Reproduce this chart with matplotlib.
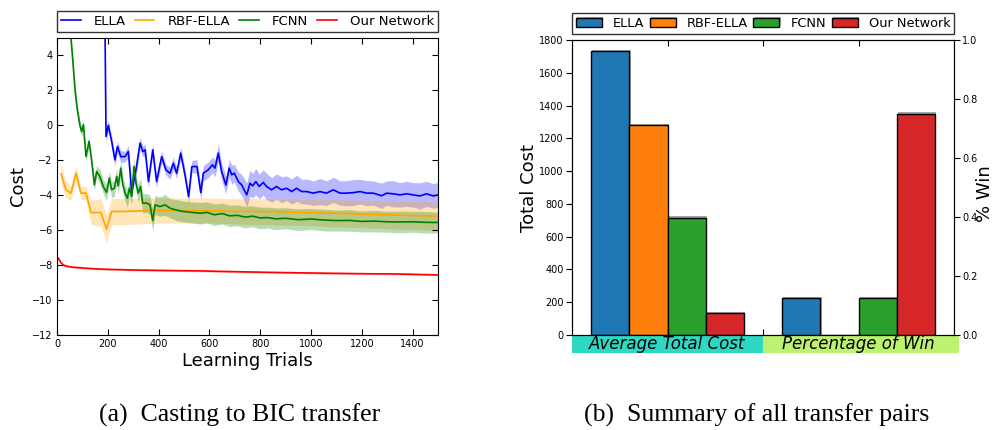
import numpy as np
import matplotlib
matplotlib.use("Agg")
import matplotlib.pyplot as plt
import matplotlib.patheffects as pe
from matplotlib.patches import Rectangle

# ------------------------------------------------------------------
# (a) learning curves: mean cost and spread per method
# ------------------------------------------------------------------
ella_x = [185, 193, 202, 215, 228, 238, 251, 268, 281, 294, 313, 327, 338, 347, 360,
          377, 392, 412, 429, 445, 458, 471, 487, 505, 518, 531, 551, 566, 576, 595,
          612, 622, 635, 648, 665, 678, 688, 698, 714, 727, 747, 760, 770, 783, 796,
          812, 825, 845, 864, 884, 904, 924, 943, 963, 983, 1009, 1035, 1061, 1088, 1114,
          1140, 1167, 1193, 1219, 1245, 1278, 1298, 1324, 1350, 1376, 1403, 1429, 1455, 1481, 1500]
ella_y = [12, -0.64, 0.0, -0.9, -1.98, -1.21, -1.79, -1.79, -1.5, -3.84, -2.36, -1.02, -1.5, -1.40, -3.22,
          -1.4, -3.22, -1.79, -2.55, -2.74, -2.17, -2.74, -1.59, -2.93, -4.08, -2.36, -2.36, -3.85, -2.74, -2.55,
          -2.26, -2.45, -1.59, -2.64, -3.41, -2.45, -2.83, -2.74, -3.22, -3.41, -3.98, -3.31, -3.46, -3.22, -3.50,
          -3.27, -3.5, -3.69, -3.5, -3.69, -3.6, -3.79, -3.60, -3.79, -3.79, -3.88, -3.79, -3.88, -3.69, -3.88,
          -3.88, -3.85, -3.79, -3.88, -3.88, -4.03, -3.88, -3.92, -3.98, -3.92, -3.98, -4.04, -3.92, -4.04, -3.98]
ella_sd = [0.3, 0.3, 0.3, 0.3, 0.35, 0.3, 0.35, 0.3, 0.35, 0.3, 0.35, 0.35, 0.3, 0.35, 0.35,
           0.3, 0.35, 0.35, 0.3, 0.35, 0.35, 0.3, 0.35, 0.35, 0.35, 0.35, 0.4, 0.4, 0.45, 0.45,
           0.45, 0.5, 0.5, 0.5, 0.5, 0.5, 0.55, 0.5, 0.55, 0.6, 0.7, 0.75, 0.7, 0.75, 0.7,
           0.72, 0.75, 0.7, 0.72, 0.75, 0.7, 0.72, 0.75, 0.7, 0.72, 0.7, 0.75, 0.7, 0.72, 0.7,
           0.72, 0.75, 0.7, 0.72, 0.7, 0.72, 0.7, 0.75, 0.7, 0.72, 0.7, 0.75, 0.72, 0.7, 0.72]

rbf_x = [16, 35, 55, 75, 94, 114, 134, 173, 195, 215, 260, 320, 392, 450, 520,
         600, 700, 800, 900, 1000, 1100, 1200, 1300, 1400, 1500]
rbf_y = [-2.77, -3.69, -3.88, -2.74, -3.88, -3.88, -4.99, -4.99, -5.94, -4.93, -4.93, -4.90, -4.88, -4.87, -4.88,
         -4.88, -4.92, -4.93, -4.96, -5.0, -5.03, -5.08, -5.12, -5.16, -5.2]
rbf_sd = [0.6, 0.45, 0.4, 0.45, 0.35, 0.4, 0.7, 0.8, 0.8, 0.75, 0.75, 0.75, 0.72, 0.72, 0.72,
          0.72, 0.72, 0.75, 0.75, 0.75, 0.78, 0.78, 0.8, 0.8, 0.82]

fcnn_x = [10, 55, 62, 71, 80, 91, 97, 104, 114, 126, 136, 147, 156, 169, 182, 195, 206, 215, 226, 235,
          241, 251, 258, 268, 277, 285, 294, 303, 311, 320, 329, 337, 353, 366, 377, 386, 405, 425, 445, 470,
          497, 530, 563, 590, 620, 650, 680, 710, 740, 770, 800, 830, 860, 900, 950, 1000, 1050, 1100, 1150, 1200,
          1250, 1300, 1350, 1400, 1450, 1500]
fcnn_y = [14, 5.0, 3.75, 2.03, 0.89, -0.06, -0.35, 0.03, -1.78, -0.92, -1.97, -3.40, -2.64, -2.93, -3.50, -3.84, -3.02, -3.69, -3.60, -2.93,
          -3.46, -2.45, -3.31, -3.88, -4.17, -3.60, -4.07, -2.35, -3.31, -3.88, -3.5, -4.45, -4.45, -4.55, -5.45, -4.55, -4.65, -4.55, -4.74, -4.85,
          -4.93, -4.98, -5.03, -4.98, -5.12, -5.05, -5.18, -5.15, -5.25, -5.2, -5.3, -5.28, -5.35, -5.32, -5.4, -5.36, -5.42, -5.45, -5.44, -5.5,
          -5.48, -5.52, -5.53, -5.52, -5.55, -5.56]
fcnn_sd = [0.3, 0.3, 0.3, 0.3, 0.3, 0.3, 0.25, 0.3, 0.3, 0.3, 0.3, 0.35, 0.35, 0.4, 0.4, 0.45, 0.4, 0.45, 0.45, 0.45,
           0.45, 0.45, 0.5, 0.45, 0.5, 0.5, 0.45, 0.5, 0.5, 0.5, 0.5, 0.55, 0.55, 0.55, 0.6, 0.55, 0.55, 0.6, 0.55, 0.6,
           0.6, 0.6, 0.62, 0.6, 0.62, 0.6, 0.62, 0.6, 0.62, 0.6, 0.62, 0.6, 0.62, 0.6, 0.62, 0.6, 0.62, 0.6, 0.62, 0.6,
           0.62, 0.6, 0.62, 0.6, 0.62, 0.6]

ours_x = [5, 15, 25, 40, 64, 90, 116, 150, 195, 250, 300, 400, 500, 563, 650, 750, 825, 950, 1088, 1200, 1350, 1500]
ours_y = [-7.61, -7.85, -7.99, -8.07, -8.12, -8.15, -8.18, -8.21, -8.24, -8.26, -8.28, -8.30, -8.32, -8.33, -8.36,
          -8.39, -8.41, -8.44, -8.47, -8.49, -8.51, -8.56]
ours_sd = [0.08, 0.07, 0.06, 0.06, 0.05, 0.05, 0.05, 0.05, 0.05, 0.05, 0.05, 0.05, 0.05, 0.05, 0.05,
           0.05, 0.05, 0.05, 0.05, 0.05, 0.05, 0.05]

# ------------------------------------------------------------------
# (b) summary over all transfer pairs
# ------------------------------------------------------------------
methods = ["ELLA", "RBF-ELLA", "FCNN", "Our Network"]
avg_total_cost = [1730, 1280, 716, 132]
win_rate = [0.125, 0.0, 0.125, 0.75]
group_labels = ["Average Total Cost", "Percentage of Win"]

line_colors = ["#0000ff", "#ffa500", "#008000", "#ff0000"]
bar_colors = ["#1f77b4", "#ff7f0e", "#2ca02c", "#d62728"]
label_boxes = ["#2ed9c4", "#bdf170"]

W, H = 994, 430


def px_rect(x0, y0, x1, y1):
    """Figure-fraction rectangle from pixel corners (origin top-left)."""
    return [x0 / W, 1 - y1 / H, (x1 - x0) / W, (y1 - y0) / H]


fig = plt.figure(figsize=(W / 100, H / 100), dpi=100)

# ---------------- left panel ----------------
ax = fig.add_axes(px_rect(57, 38, 438, 335))
curves = [(ella_x, ella_y, ella_sd), (rbf_x, rbf_y, rbf_sd),
          (fcnn_x, fcnn_y, fcnn_sd), (ours_x, ours_y, ours_sd)]
for (xs, ys, sd), col, name in zip(curves, line_colors, methods):
    xs, ys, sd = np.asarray(xs), np.asarray(ys), np.asarray(sd)
    ax.fill_between(xs, ys - sd, ys + sd, color=col, alpha=0.28, linewidth=0)
    ax.plot(xs, ys, color=col, linewidth=1.2, label=name)

ax.set_xlim(0, 1500)
ax.set_ylim(-12, 5)
ax.set_xticks(np.arange(0, 1401, 200))
ax.set_yticks(np.arange(-12, 5, 2))
ax.tick_params(direction="in", top=True, right=True, length=4, width=0.8,
               labelsize=7, pad=3)
ax.set_xlabel("Learning Trials", fontsize=13, va="center")
ax.xaxis.set_label_coords(0.5, -(361 - 335) / 297)
ax.set_ylabel("Cost", fontsize=13, va="center")
ax.yaxis.set_label_coords((18 - 57) / 381, 0.5)
ax.legend(loc="lower left", bbox_to_anchor=(0, 1.02, 1, 0.074), mode="expand",
          ncol=4, fontsize=9.5, fancybox=False, edgecolor="black",
          borderaxespad=0, handlelength=1.5, handletextpad=1.0, borderpad=0.3)

# ---------------- right panel ----------------
ax2 = fig.add_axes(px_rect(572, 40, 954, 335))
ax2r = ax2.twinx()
group_pos = [1, 3]
width = 0.4
shadow = [pe.SimplePatchShadow(offset=(1, 1), shadow_rgbFace="0.5", alpha=0.7), pe.Normal()]
handles = []
for i, name in enumerate(methods):
    off = (i - 1.5) * width
    h = ax2.bar(group_pos[0] + off, avg_total_cost[i], width=width, color=bar_colors[i],
                edgecolor="black", linewidth=1, label=name, path_effects=shadow)
    ax2r.bar(group_pos[1] + off, win_rate[i], width=width, color=bar_colors[i],
             edgecolor="black", linewidth=1, path_effects=shadow)
    handles.append(h)

ax2.set_xlim(0, 4)
ax2.set_ylim(0, 1800)
ax2r.set_ylim(0, 1.0)
ax2.set_xticks([1, 2, 3])
ax2.set_yticks(np.arange(0, 1801, 200))
ax2r.set_yticks(np.arange(0, 1.01, 0.2))
ax2r.yaxis.set_major_formatter(matplotlib.ticker.FormatStrFormatter("%.1f"))
ax2.tick_params(axis="x", direction="in", top=True, labelbottom=False, length=4)
ax2.tick_params(axis="y", direction="out", length=4, labelsize=7, pad=2)
ax2r.tick_params(axis="y", direction="out", length=4, labelsize=7, pad=2)
ax2.set_ylabel("Total Cost", fontsize=13, va="center")
ax2.yaxis.set_label_coords((529.5 - 572) / 382, 0.5)
ax2r.set_ylabel("% Win", fontsize=13, va="center")
ax2r.yaxis.set_label_coords((985 - 572) / 382, 0.48)

# coloured group captions under the bars
box_h = 17 / 295
spans = [(0.0, 0.5), (0.5, (959 - 572) / 382)]
for (x0, x1), col in zip(spans, label_boxes):
    ax2.add_patch(Rectangle((x0, -0.004 - box_h), x1 - x0, box_h, transform=ax2.transAxes,
                            facecolor=col, edgecolor="none", clip_on=False, zorder=0))
for gp, text in zip(group_pos, group_labels):
    ax2.text(gp / 4, -0.03, text, transform=ax2.transAxes, ha="center", va="center",
             style="italic", fontsize=12)

ax2.legend(handles=handles, loc="lower center", bbox_to_anchor=(0.5, 1.02),
           ncol=4, fontsize=9.3, fancybox=False, edgecolor="black",
           borderaxespad=0, handlelength=2.0, handleheight=0.65, handletextpad=0.85,
           columnspacing=0.45, borderpad=0.3)

# sub-figure captions
fig.text(240 / W, 1 - 422 / H, "(a)  Casting to BIC transfer", family="Liberation Serif",
         fontsize=18.5, ha="center", va="baseline")
fig.text(757 / W, 1 - 422 / H, "(b)  Summary of all transfer pairs", family="Liberation Serif",
         fontsize=18.5, ha="center", va="baseline")

fig.savefig("out.png", dpi=100)
